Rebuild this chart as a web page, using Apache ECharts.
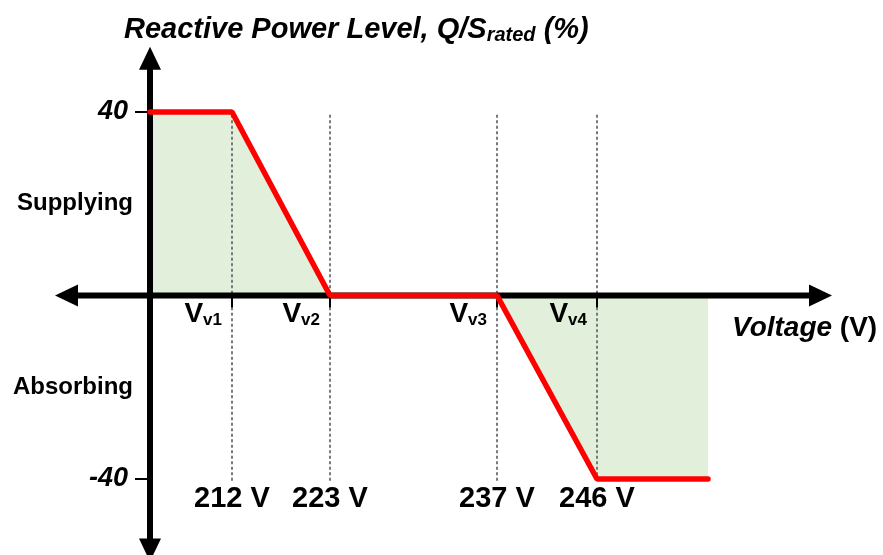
<!DOCTYPE html>
<html><head><meta charset="utf-8">
<script src="https://cdn.jsdelivr.net/npm/echarts@6/dist/echarts.min.js"></script>
<style>html,body{margin:0;padding:0;background:#fff}#c{width:883px;height:555px}</style>
</head><body><div id="c"></div>
<script>
// ---- data ----
const breakpointNames = ['v1', 'v2', 'v3', 'v4'];
const breakpointVoltages = [212, 223, 237, 246];
const breakpointPos = [82, 180, 347, 447];          // schematic (not to scale) positions on the voltage axis
const curveX = [0, 82, 180, 347, 447, 558];
const curveQ = [40, 40, 0, 0, -40, -40];
const qTicks = [40, -40];
const regionQ = [20, -20];
const regionText = ['Supplying', 'Absorbing'];

// ---- layout / style constants ----
const FONT = "'Liberation Sans', Arial, Helvetica, sans-serif";
const X_ARROW = [-95, 682];
const Y_ARROW = [-58, 54.2];
const DASH_RANGE = [39.4, -40.7];

const curve = curveX.map((x, i) => [x, curveQ[i]]);

const chart = echarts.init(document.getElementById('c'), null, {renderer: 'canvas'});
chart.setOption({
  animation: false,
  backgroundColor: '#ffffff',
  grid: {left: 150, right: 175, top: 112, bottom: 76, containLabel: false},
  xAxis: {
    type: 'value', min: 0, max: 558,
    axisLine: {show: false}, axisTick: {show: false}, splitLine: {show: false},
    axisLabel: {
      customValues: breakpointPos, margin: 5,
      fontFamily: FONT, fontSize: 29, fontWeight: 'bold', color: '#000',
      formatter: v => breakpointVoltages[breakpointPos.indexOf(v)] + ' V'
    }
  },
  yAxis: {
    type: 'value', min: -40, max: 40,
    axisLine: {show: false}, splitLine: {show: false},
    axisTick: {show: true, customValues: qTicks, length: 15, lineStyle: {color: '#000', width: 2}},
    axisLabel: {
      customValues: [40, 20, -20, -40], margin: 17,
      formatter: v => qTicks.indexOf(v) >= 0 ? '{n|' + v + '}' : '{t|' + regionText[regionQ.indexOf(v)] + '}',
      rich: {
        n: {fontFamily: FONT, fontSize: 27, fontWeight: 'bold', fontStyle: 'italic', color: '#000', padding: [0, 5, 0, 0]},
        t: {fontFamily: FONT, fontSize: 24, fontWeight: 'bold', color: '#000'}
      }
    }
  },
  graphic: [
    {
      type: 'text', x: 124, y: 30, silent: true,
      style: {
        text: '{a|Reactive Power Level, Q/S}{s|rated}{a| (%)}',
        verticalAlign: 'middle', align: 'left',
        rich: {
          a: {fontFamily: FONT, fontSize: 29, fontWeight: 'bold', fontStyle: 'italic', fill: '#000', lineHeight: 30},
          s: {fontFamily: FONT, fontSize: 20, fontWeight: 'bold', fontStyle: 'italic', fill: '#000', lineHeight: 16, verticalAlign: 'bottom'}
        }
      }
    },
    {
      type: 'text', x: 732, y: 328, silent: true,
      style: {
        text: '{i|Voltage}{n| (V)}',
        verticalAlign: 'middle', align: 'left',
        rich: {
          i: {fontFamily: FONT, fontSize: 28, fontWeight: 'bold', fontStyle: 'italic', fill: '#000'},
          n: {fontFamily: FONT, fontSize: 28, fontWeight: 'bold', fill: '#000'}
        }
      }
    }
  ],
  series: [
    {
      type: 'line', data: curve, symbol: 'none', z: 1, silent: true, clip: false,
      lineStyle: {width: 0, opacity: 0},
      areaStyle: {color: '#e2efda', opacity: 1}
    },
    {
      type: 'custom', z: 2, silent: true, clip: false,
      data: [[0, 0]],
      renderItem: function (params, api) {
        if (params.dataIndex !== 0) return;
        const o = api.coord([0, 0]);
        const L = api.coord([X_ARROW[0], 0]), R = api.coord([X_ARROW[1], 0]);
        const T = api.coord([0, Y_ARROW[1]]), B = api.coord([0, Y_ARROW[0]]);
        const H = 23, W = 11, LW = 6;
        const ch = [];
        breakpointPos.forEach(p => {
          const a = api.coord([p, DASH_RANGE[0]]), b = api.coord([p, DASH_RANGE[1]]);
          ch.push({type: 'line', shape: {x1: a[0], y1: a[1], x2: b[0], y2: b[1]},
            style: {stroke: '#7a7a7a', lineWidth: 2, lineDash: [3, 2.5]}});
        });
        ch.push({type: 'line', shape: {x1: L[0] + H - 2, y1: o[1], x2: R[0] - H + 2, y2: o[1]}, style: {stroke: '#000', lineWidth: LW}});
        ch.push({type: 'line', shape: {x1: o[0], y1: T[1] + H - 2, x2: o[0], y2: B[1] - H + 2}, style: {stroke: '#000', lineWidth: LW}});
        ch.push({type: 'polygon', shape: {points: [[L[0], o[1]], [L[0] + H, o[1] - W], [L[0] + H, o[1] + W]]}, style: {fill: '#000'}});
        ch.push({type: 'polygon', shape: {points: [[R[0], o[1]], [R[0] - H, o[1] - W], [R[0] - H, o[1] + W]]}, style: {fill: '#000'}});
        ch.push({type: 'polygon', shape: {points: [[o[0], T[1]], [o[0] - W, T[1] + H], [o[0] + W, T[1] + H]]}, style: {fill: '#000'}});
        ch.push({type: 'polygon', shape: {points: [[o[0], B[1]], [o[0] - W, B[1] - H], [o[0] + W, B[1] - H]]}, style: {fill: '#000'}});
        breakpointPos.forEach((p, i) => {
          const c = api.coord([p, 0]);
          ch.push({type: 'line', shape: {x1: c[0], y1: c[1], x2: c[0], y2: c[1] + 12}, style: {stroke: '#000', lineWidth: 2}});
          ch.push({type: 'text', x: c[0] - 10, y: c[1] + 19,
            style: {
              text: '{m|V}{s|' + breakpointNames[i] + '}',
              align: 'right', verticalAlign: 'middle',
              rich: {
                m: {fontFamily: FONT, fontSize: 28, fontWeight: 'bold', fill: '#000', lineHeight: 28},
                s: {fontFamily: FONT, fontSize: 17, fontWeight: 'bold', fill: '#000', lineHeight: 10, verticalAlign: 'bottom'}
              }
            }});
        });
        return {type: 'group', children: ch};
      }
    },
    {
      type: 'line', data: curve, symbol: 'none', z: 3, silent: true, clip: false,
      lineStyle: {color: '#ff0000', width: 5.5, cap: 'round'}
    }
  ]
});
</script>
</body></html>
